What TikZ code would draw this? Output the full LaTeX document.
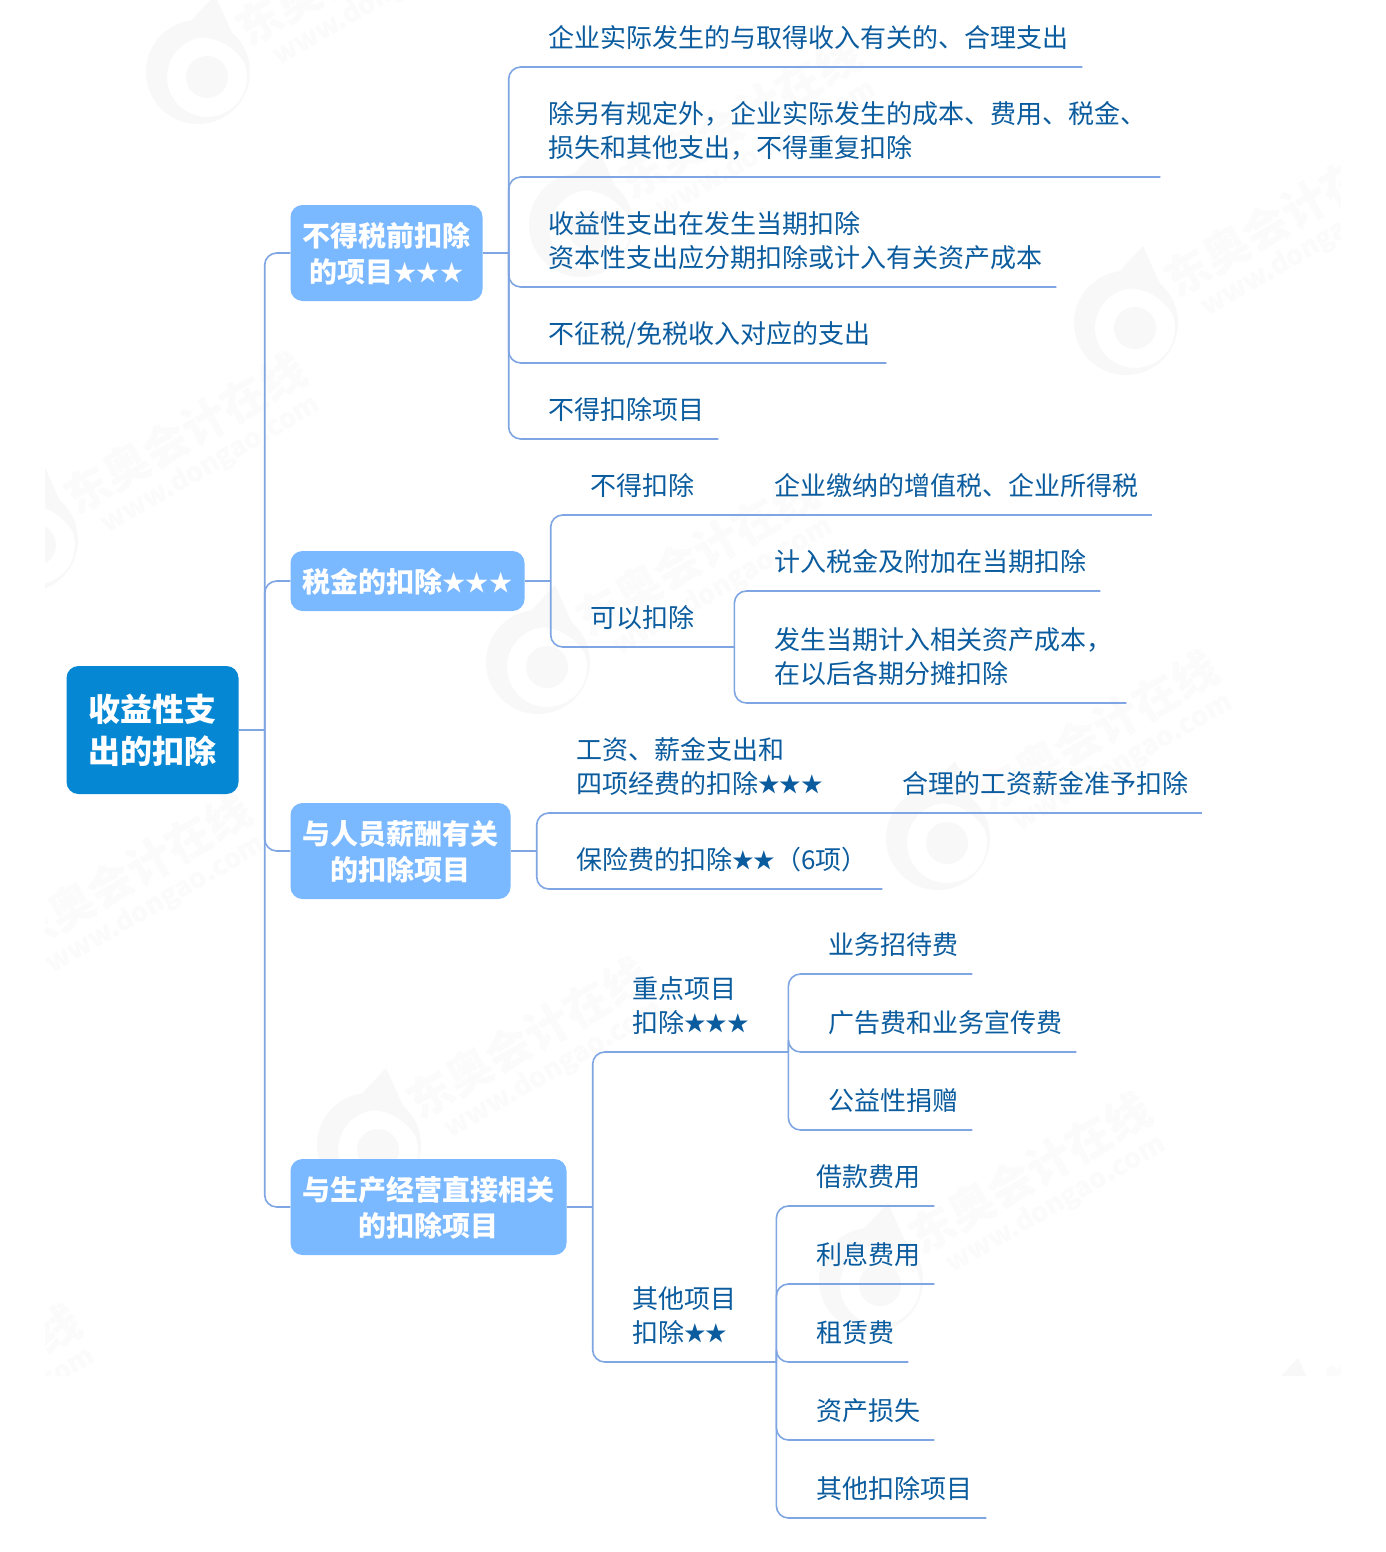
\documentclass[tikz,border=0pt]{standalone}
\usepackage{fontspec}
\setmainfont{Noto Sans CJK SC}
\newfontfamily\starfont[Scale=0.83]{Noto Sans CJK SC}
\usetikzlibrary{calc}
\definecolor{linecol}{HTML}{7FA6E2}
\definecolor{textcol}{HTML}{0B5C9E}
\definecolor{rootcol}{HTML}{0587D3}
\definecolor{topiccol}{HTML}{7AB8FF}
\definecolor{wmcol}{HTML}{F8F8F8}
\definecolor{wmtxt}{HTML}{FBFBFB}
\newcommand{\stary}[1]{\raisebox{.06em}{\starfont #1}}
\newcommand{\tp}{\rule{0pt}{.95em}}
\tikzset{
  x=1pt,y=-1pt,
  conn/.style={draw=linecol,line width=1.6pt,rounded corners=12pt},
  rootbox/.style={fill=rootcol,rounded corners=12pt,text=white,inner sep=0pt,align=center,
    font=\fontsize{32}{42}\selectfont\bfseries},
  topicbox/.style={fill=topiccol,rounded corners=12pt,text=white,inner sep=0pt,align=center,
    font=\fontsize{28}{36}\selectfont\bfseries},
  leaf/.style={anchor=south west,inner xsep=14pt,inner ysep=14pt,align=left,
    text=textcol,font=\fontsize{26}{34}\selectfont},
  wmtext/.style={text=wmtxt,rotate=30,inner sep=0pt},
}
% \lf{name}{left x}{line y}{right end}{text}
\newcommand{\lf}[5]{\node[leaf,text width=#4pt-#2pt-28pt] (#1) at (#2,#3) {#5\rule[-5pt]{0pt}{5pt}};}
\newcommand{\wm}[3]{%
  \fill[wmcol,even odd rule] (#2-9,#3-5) circle (52) (#2,#3) circle (40);
  \fill[wmcol] (#2,#3) circle (21);
  \fill[wmcol] (#2-17,#3-55) -- (#2+8,#3-82) -- (#2+41,#3-8) .. controls (#2+30,#3-30) and (#2+10,#3-42) .. (#2-17,#3-40) -- cycle;
  \node[wmtext,font=\fontsize{45}{45}\selectfont\bfseries] (#1a) at (#2+150,#3-112) {东奥会计在线};
  \node[wmtext,font=\fontsize{27}{27}\selectfont\bfseries] (#1b) at (#2+176,#3-80) {www.dongao.com};
}
\begin{document}
\begin{tikzpicture}
\useasboundingbox (0,0) rectangle (1386,1552);
\fill[white] (0,0) rectangle (1386,1552);
% watermark
\begin{scope}
\clip (45,0) rectangle (1340,1375);
\wm{wa}{207}{77}
\wm{wb}{1135}{328}
\wm{wc}{547}{667}
\wm{wd}{947}{843}
\wm{we}{378}{1150}
\wm{wf}{880}{1285}
\wm{wg}{35}{545}
\wm{wh}{-20}{985}
\wm{wi}{-190}{1497}
\wm{wj}{1290}{1440}
\wm{wk}{590}{230}
\end{scope}
% root and topics
\node[rootbox,minimum width=172pt,minimum height=128pt] (root) at (152.5,730) {收益性支\\出的扣除};
\node[topicbox,minimum width=192pt,minimum height=96pt] (A) at (386.5,253) {\tp 不得税前扣除\\的项目\stary{★★★}};
\node[topicbox,minimum width=234pt,minimum height=60pt] (B) at (407.5,581) {\tp 税金的扣除\stary{★★★}};
\node[topicbox,minimum width=220pt,minimum height=96pt] (C) at (400.5,851) {\tp 与人员薪酬有关\\的扣除项目};
\node[topicbox,minimum width=276pt,minimum height=96pt] (D) at (428.5,1207) {\tp 与生产经营直接相关\\的扣除项目};
% first-level spine
\coordinate (sr) at ($(root.east)+(26,0)$);
\draw[conn] (root.east) -- (sr);
\draw[conn] (sr) |- (A.west);
\draw[conn] (sr) |- (B.west);
\draw[conn] (sr) |- (C.west);
\draw[conn] (sr) |- (D.west);
% A leaves
\lf{a1}{534}{67}{1082}{企业实际发生的与取得收入有关的、合理支出}
\lf{a2}{534}{177}{1160}{除另有规定外，企业实际发生的成本、费用、税金、\\损失和其他支出，不得重复扣除}
\lf{a3}{534}{287}{1056}{收益性支出在发生当期扣除\\资本性支出应分期扣除或计入有关资产成本}
\lf{a4}{534}{363}{886}{不征税/免税收入对应的支出}
\lf{a5}{534}{439}{718}{不得扣除项目}
\coordinate (sa) at ($(A.east)+(26,0)$);
\draw[conn] (A.east) -- (sa);
\foreach \n in {a1,a2,a3,a4,a5} \draw[conn] (sa) |- (\n.south west) -- (\n.south east);
% B
\lf{b1}{576}{515}{708}{不得扣除}
\lf{b2}{576}{647}{708}{可以扣除}
\lf{b3}{760}{515}{1152}{企业缴纳的增值税、企业所得税}
\lf{b4}{760}{591}{1100}{计入税金及附加在当期扣除}
\lf{b5}{760}{703}{1126}{发生当期计入相关资产成本，\\在以后各期分摊扣除}
\coordinate (sb) at ($(B.east)+(26,0)$);
\draw[conn] (B.east) -- (sb);
\foreach \n in {b1,b2} \draw[conn] (sb) |- (\n.south west) -- (\n.south east);
\draw[conn] (b1.south east) -- (b3.south west) -- (b3.south east);
\coordinate (sb2) at ($(b2.south east)+(26,0)$);
\draw[conn] (b2.south east) -- (sb2);
\foreach \n in {b4,b5} \draw[conn] (sb2) |- (\n.south west) -- (\n.south east);
% C
\lf{c1}{562}{813}{835}{工资、薪金支出和\\四项经费的扣除\stary{★★★}}
\lf{c2}{562}{889}{882}{保险费的扣除\stary{★★}（6项）}
\lf{c3}{888}{813}{1202}{合理的工资薪金准予扣除}
\coordinate (sc) at ($(C.east)+(26,0)$);
\draw[conn] (C.east) -- (sc);
\foreach \n in {c1,c2} \draw[conn] (sc) |- (\n.south west) -- (\n.south east);
\draw[conn] (c1.south east) -- (c3.south west) -- (c3.south east);
% D
\lf{d1}{618}{1052}{762}{重点项目\\扣除\stary{★★★}}
\lf{d2}{618}{1362}{750}{其他项目\\扣除\stary{★★}}
\coordinate (sd) at ($(D.east)+(26,0)$);
\draw[conn] (D.east) -- (sd);
\foreach \n in {d1,d2} \draw[conn] (sd) |- (\n.south west) -- (\n.south east);
\lf{e1}{814}{974}{972}{业务招待费}
\lf{e2}{814}{1052}{1076}{广告费和业务宣传费}
\lf{e3}{814}{1130}{972}{公益性捐赠}
\coordinate (se) at ($(d1.south east)+(26,0)$);
\draw[conn] (d1.south east) -- (se);
\foreach \n in {e1,e2,e3} \draw[conn] (se) |- (\n.south west) -- (\n.south east);
\lf{f1}{802}{1206}{934}{借款费用}
\lf{f2}{802}{1284}{934}{利息费用}
\lf{f3}{802}{1362}{908}{租赁费}
\lf{f4}{802}{1440}{934}{资产损失}
\lf{f5}{802}{1518}{986}{其他扣除项目}
\coordinate (sf) at ($(d2.south east)+(26,0)$);
\draw[conn] (d2.south east) -- (sf);
\foreach \n in {f1,f2,f3,f4,f5} \draw[conn] (sf) |- (\n.south west) -- (\n.south east);
\end{tikzpicture}
\end{document}
